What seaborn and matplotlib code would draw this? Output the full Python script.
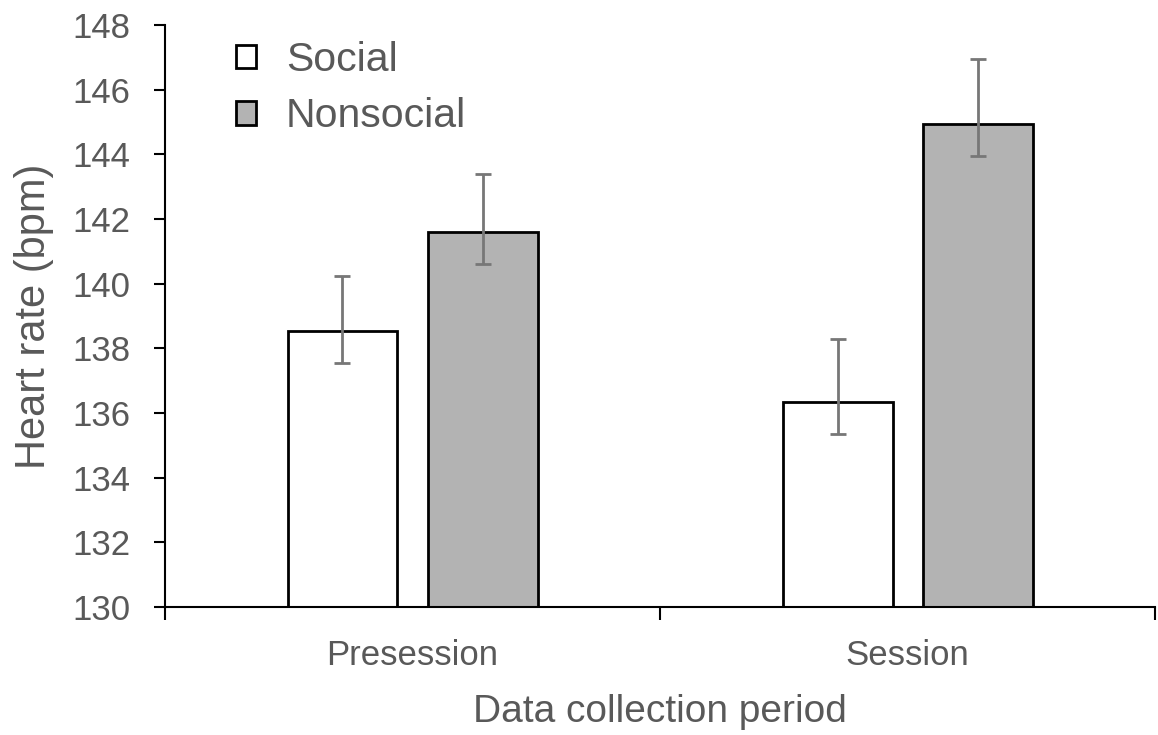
import matplotlib
matplotlib.use("Agg")
import matplotlib.pyplot as plt
import seaborn as sns
import pandas as pd
import numpy as np
from matplotlib.patches import Patch

periods = ["Presession", "Session"]
groups = ["Social", "Nonsocial"]
social_mean = [138.55, 136.35]
social_low = [137.55, 135.35]
social_high = [140.25, 138.30]
nonsocial_mean = [141.60, 144.95]
nonsocial_low = [140.60, 143.95]
nonsocial_high = [143.40, 146.95]
y_ticks = [130, 132, 134, 136, 138, 140, 142, 144, 146, 148]

sns.set_theme(style="white")
plt.rcParams["font.family"] = ["Liberation Sans", "DejaVu Sans"]
TXT = "#595959"

df = pd.DataFrame({
    "period": periods * 2,
    "group": [groups[0]] * 2 + [groups[1]] * 2,
    "hr": social_mean + nonsocial_mean,
})
lows = {"Social": social_low, "Nonsocial": nonsocial_low}
highs = {"Social": social_high, "Nonsocial": nonsocial_high}
means = {"Social": social_mean, "Nonsocial": nonsocial_mean}
colors = {"Social": "white", "Nonsocial": "#b3b3b3"}

fig = plt.figure(figsize=(11.58, 7.35), dpi=100)
ax = fig.add_axes([0.1425, 0.1741, 0.855, 0.792])

sns.barplot(data=df, x="period", y="hr", hue="group", order=periods,
            hue_order=groups, palette=colors, edgecolor="black",
            linewidth=2, errorbar=None, width=0.566, gap=0.215,
            legend=False, ax=ax)

for g, cont in zip(groups, ax.containers):
    xs = [b.get_x() + b.get_width() / 2 for b in cont]
    m = np.array(means[g])
    yerr = np.vstack([m - np.array(lows[g]), np.array(highs[g]) - m])
    ax.errorbar(xs, m, yerr=yerr, fmt="none", ecolor="#777777",
                elinewidth=2, capsize=5.5, capthick=2, zorder=5)

ax.set_ylim(130, 148)
ax.set_xlim(-0.5, 1.5)
ax.set_yticks(y_ticks)
ax.set_yticklabels([str(t) for t in y_ticks])
ax.set_xticks([-0.5, 0.5, 1.5])
ax.set_xticklabels(["", "", ""])
ax.set_xticks([0, 1], minor=True)
ax.set_xticklabels(periods, minor=True)
ax.tick_params(axis="x", which="major", direction="out", length=9,
               width=1.5, color="black", bottom=True)
ax.tick_params(axis="x", which="minor", length=0, labelsize=25,
               labelcolor=TXT, pad=23)
ax.tick_params(axis="y", direction="out", length=8, width=1.5,
               color="black", left=True, labelsize=25, labelcolor=TXT, pad=17)

for s in ["top", "right"]:
    ax.spines[s].set_visible(False)
for s in ["left", "bottom"]:
    ax.spines[s].set_color("black")
    ax.spines[s].set_linewidth(1.5)

ax.set_xlabel("Data collection period", fontsize=28, color=TXT, labelpad=16)
ax.set_ylabel("Heart rate (bpm)", fontsize=30, color=TXT, labelpad=13)

handles = [Patch(facecolor=colors[g], edgecolor="black", linewidth=2) for g in groups]
leg = ax.legend(handles, groups, loc="upper left",
                bbox_to_anchor=(236 / 1158, 1 - 41 / 735),
                bbox_transform=fig.transFigure, frameon=False,
                fontsize=29.5, handlelength=0.5, handleheight=0.5,
                handletextpad=0.72, labelspacing=0.45, borderaxespad=0,
                borderpad=0)
for t in leg.get_texts():
    t.set_color(TXT)

fig.savefig("out.png", dpi=100)
